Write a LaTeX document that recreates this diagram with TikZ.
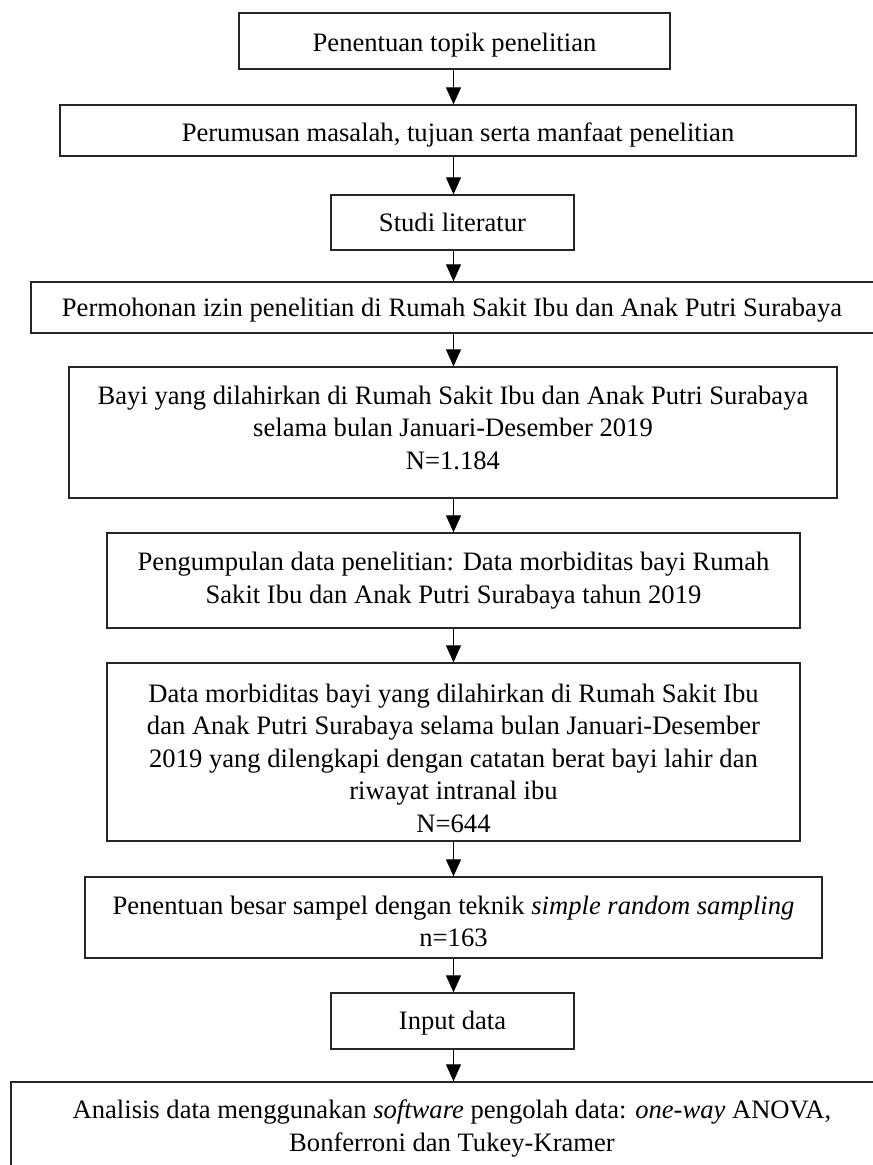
\documentclass[tikz,border=0pt]{standalone}
\usepackage{fontspec}
\setmainfont{Liberation Serif}
\usetikzlibrary{arrows.meta}
\begin{document}
\begin{tikzpicture}[x=1pt,y=-1pt,
  box/.style={draw=black!85, line width=1.3pt, inner sep=0pt},
  txt/.style={align=center, inner sep=0pt, font=\fontsize{26.6}{32.5}\selectfont},
  arr/.style={line width=1.1pt, -{Triangle[width=15pt,length=17pt]}}]
\useasboundingbox (0,0) rectangle (873,1165);
\clip (0,0) rectangle (873,1165);
\fill[white] (0,0) rectangle (873,1165);
\coordinate (ax) at (453.5,0);
\node[box, minimum width=431pt, minimum height=56pt] (b1) at (454.5,41) {};
\node[txt, yshift=-4pt] (t1) at (b1.center) {Penentuan topik penelitian};
\node[box, minimum width=796pt, minimum height=51pt] (b2) at (458,130.5) {};
\node[txt, yshift=-4pt] (t2) at (b2.center) {Perumusan masalah, tujuan serta manfaat penelitian};
\node[box, minimum width=243pt, minimum height=55pt] (b3) at (452.5,222.5) {};
\node[txt] (t3) at (b3.center) {Studi literatur};
\node[box, minimum width=849pt, minimum height=51pt] (b4) at (455.5,307.5) {};
\node[txt, yshift=-3pt] (t4) at (452,307.5) {Permohonan izin penelitian di Rumah Sakit Ibu dan Anak Putri Surabaya};
\node[box, minimum width=768pt, minimum height=131pt] (b5) at (453,432.5) {};
\node[txt, yshift=5pt] (t5) at (b5.center) {Bayi yang dilahirkan di Rumah Sakit Ibu dan Anak Putri Surabaya\\selama bulan Januari-Desember 2019\\N=1.184};
\node[box, minimum width=693pt, minimum height=95pt] (b6) at (453.5,580.5) {};
\node[txt] (t6) at (b6.center) {Pengumpulan data penelitian: Data morbiditas bayi Rumah\\Sakit Ibu dan Anak Putri Surabaya tahun 2019};
\node[box, minimum width=693pt, minimum height=178pt] (b7) at (453.5,752) {};
\node[txt, yshift=-6pt] (t7) at (b7.center) {Data morbiditas bayi yang dilahirkan di Rumah Sakit Ibu\\dan Anak Putri Surabaya selama bulan Januari-Desember\\2019 yang dilengkapi dengan catatan berat bayi lahir dan\\riwayat intranal ibu\\N=644};
\node[box, minimum width=737pt, minimum height=81pt] (b8) at (453.5,917.5) {};
\node[txt, yshift=-4pt] (t8) at (b8.center) {Penentuan besar sampel dengan teknik \textit{simple random sampling}\\n=163};
\node[box, minimum width=243pt, minimum height=56pt] (b9) at (452.5,1021) {};
\node[txt, yshift=-2pt] (t9) at (b9.center) {Input data};
\node[box, minimum width=884pt, minimum height=90pt] (b10) at (453,1127) {};
\node[txt, yshift=-1.5pt] (t10) at (452,1127) {Analisis data menggunakan \textit{software} pengolah data: \textit{one-way} ANOVA,\\Bonferroni dan Tukey-Kramer};
\foreach \a/\b in {b1/b2,b2/b3,b3/b4,b4/b5,b5/b6,b6/b7,b7/b8,b8/b9,b9/b10}
  \draw[arr] (\a.south -| ax) -- (\b.north -| ax);
\end{tikzpicture}
\end{document}
